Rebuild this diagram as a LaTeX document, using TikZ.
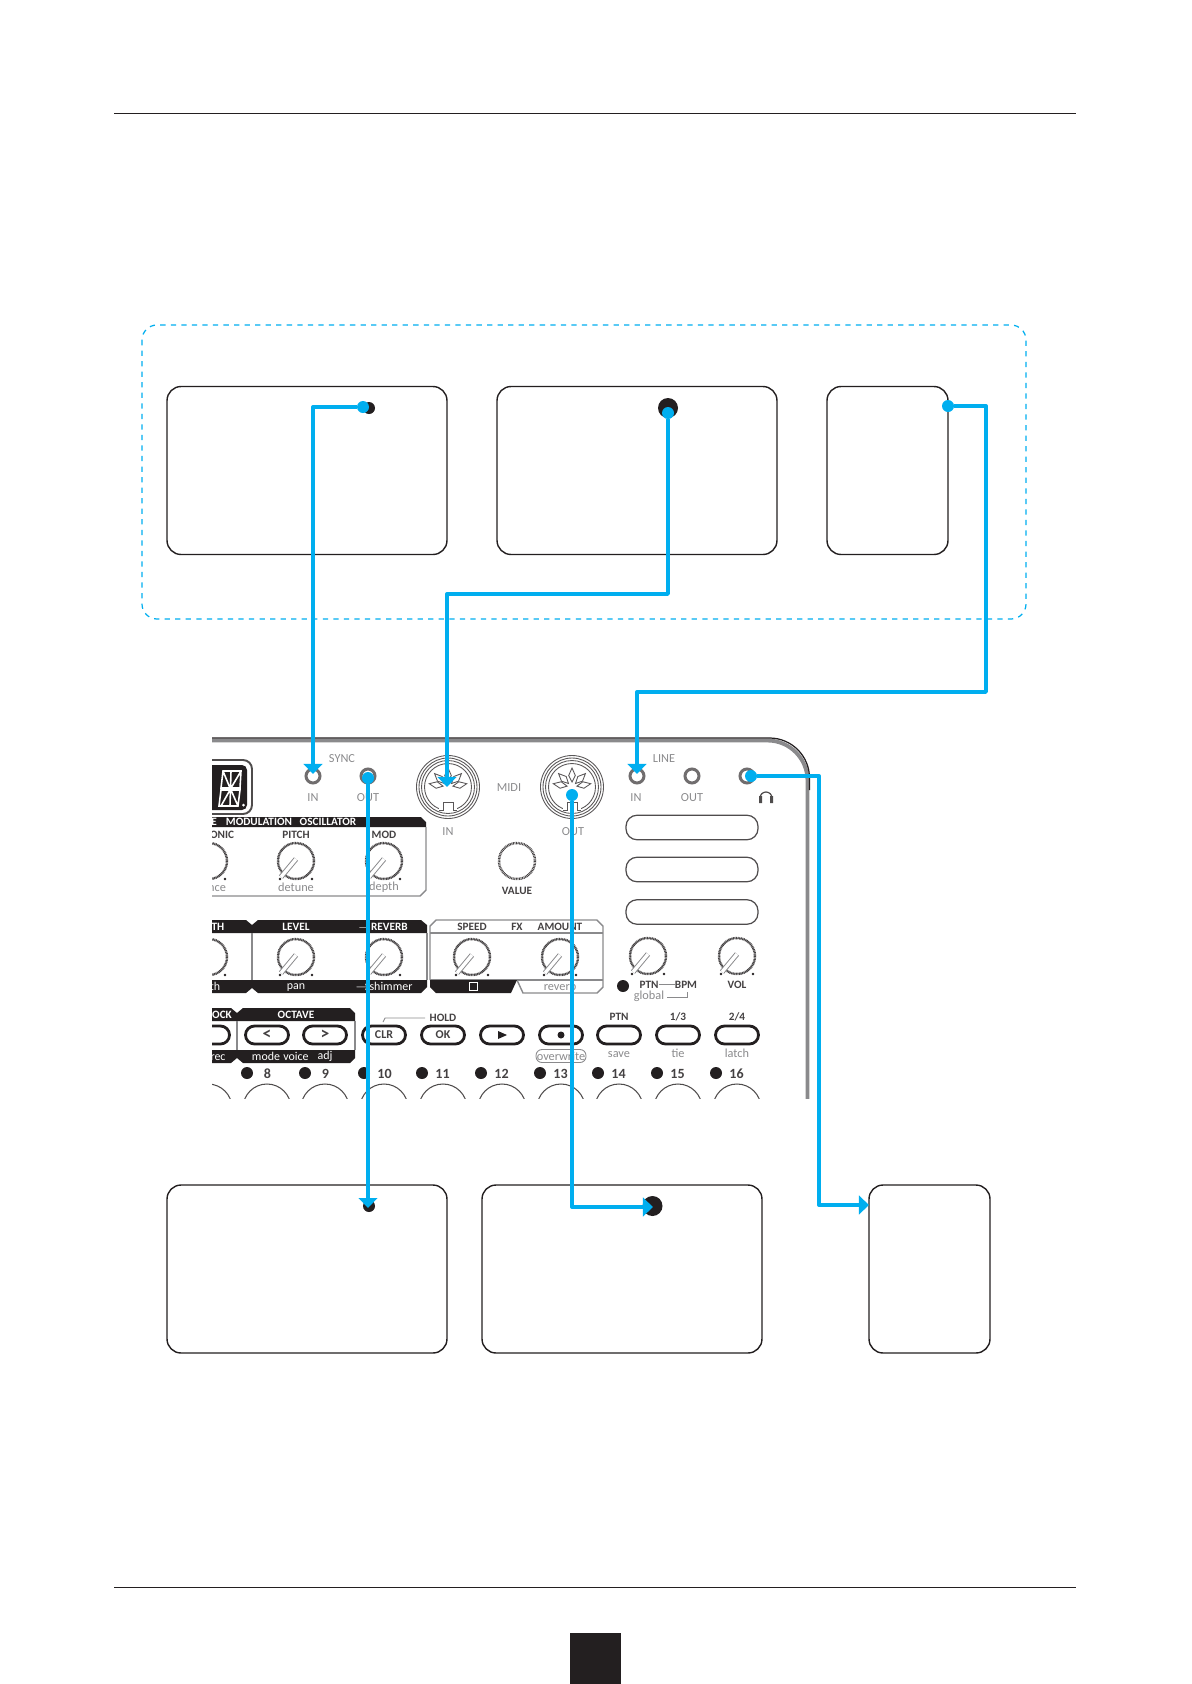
\documentclass[tikz,border=0pt]{standalone}
\usepackage{fontspec}
\setmainfont{Carlito}
\usepackage{tikz}
\usetikzlibrary{arrows.meta}

\definecolor{wireblue}{HTML}{00AEEF}
\definecolor{ink}{HTML}{231F20}
\definecolor{soft}{HTML}{8A8A8C}

\tikzset{
    devicebox/.style={draw=ink,line width=0.8pt,rounded corners=0.28cm,minimum height=3.36cm,inner sep=0,outer sep=0,fill=white},
    widebox/.style={devicebox,minimum width=5.6cm},
    thinbox/.style={devicebox,minimum width=2.42cm},
    wire/.style={draw=wireblue,line width=1.9pt,line join=round},
    wirearrow/.style={wire,-{Triangle[length=5.7pt,width=10.5pt]}},
    wiredot/.style={shape=circle,fill=wireblue,inner sep=0,minimum size=0.24cm},
    blackdot/.style={shape=circle,fill=ink,inner sep=0},
    faint/.style={text=soft,font=\fontsize{7}{8}\selectfont,inner sep=0,text height=4.6pt},
    label/.style={text=ink!85,font=\fontsize{6.4}{8}\bfseries\selectfont,inner sep=0,text height=4.2pt,text depth=0pt},
    bandtext/.style={text=white,font=\fontsize{6.4}{8}\bfseries\selectfont,inner sep=0,text height=4.2pt,text depth=0pt},
    bandsoft/.style={text=white,font=\fontsize{6.8}{8}\selectfont,inner sep=0,text height=4.6pt},
    panelline/.style={draw=soft,line width=0.8pt},
    button/.style={draw=ink,line width=1.6pt,rounded corners=0.18cm,minimum width=0.86cm,minimum height=0.36cm,inner sep=0,fill=white,font=\fontsize{6.8}{8}\bfseries\selectfont,text=ink!85},
    arrowbutton/.style={button,font=\fontsize{10}{10}\bfseries\selectfont},
    slot/.style={draw=ink!80,line width=0.7pt,rounded corners=0.22cm,minimum width=2.64cm,minimum height=0.49cm,inner sep=0},
    jack/.style={shape=circle,draw=ink!65,line width=1.7pt,fill=white,minimum size=0.28cm,inner sep=0},
    midiring/.style={shape=circle,draw=ink!75,line width=0.5pt,inner sep=0},
    knob/.pic={
        \draw[soft,line width=0.5pt] (0,0) circle (18);
        \draw[ink!85,line width=1.4pt,dash pattern=on 0.5pt off 0.4pt] (0,0) circle (18);
        \draw[soft,line width=3pt] (-15,16) -- (0,-2);
        \draw[white,line width=1.9pt] (-15,16) -- (0,-2);
        \fill[ink] (-16,18) circle (1.4) (16,18) circle (1.4);
    }
}

\begin{document}
\begin{tikzpicture}[x=0.02cm,y=-0.02cm]
    \useasboundingbox (0,0) rectangle (1191,1684);

    \draw[ink,line width=0.6pt] (114,113.5) -- (1076,113.5);
    \draw[ink,line width=0.6pt] (114,1587.5) -- (1076,1587.5);
    \fill[ink] (570,1633) rectangle (621,1684);

    \draw[wireblue,line width=0.7pt,dashed,rounded corners=0.3cm] (142,325) rectangle (1026,619);

    \begin{scope}
        \clip (212,730) rectangle (830,1098);

        \draw[soft,line width=2.2pt,rounded corners=0.8cm] (200,740.5) -- (807.5,740.5) -- (807.5,1120);
        \draw[ink,line width=0.7pt,rounded corners=0.8cm] (200,738) -- (809.5,738) -- (809.5,790);

        \draw[ink!80,line width=1.1pt,rounded corners=0.18cm] (190,760) -- (252,760) -- (252,814) -- (190,814);
        \fill[ink,rounded corners=0.1cm] (190,765) rectangle (247,810);
        \draw[white,line width=0.9pt] (223,771) -- (241,771) -- (240,788) -- (221,788) -- cycle
            (221,790) -- (240,790) -- (238,806) -- (219,806) -- cycle
            (231,771) -- (230,806) (223,771) -- (230,788) (241,771) -- (231,788)
            (221,806) -- (230,790) (238,806) -- (231,790);
        \fill[white] (243.5,805) circle (1.5);

        \fill[ink] (200,817) -- (421,817) -- (426,822) -- (426,827) -- (200,827) -- cycle;
        \draw[panelline] (426,827) -- (426,890) -- (420,896) -- (200,896);

        \fill[ink] (200,920) -- (246,920) -- (252,925) -- (258,920) -- (421,920) -- (427,925) -- (427,933) -- (200,933) -- cycle;
        \fill[ink] (200,980) -- (427,980) -- (427,987) -- (421,993) -- (258,993) -- (252,988) -- (246,993) -- (200,993) -- cycle;
        \draw[panelline] (252,933) -- (252,980) (427,933) -- (427,980);

        \draw[panelline] (430,980) -- (430,926) -- (436,920) -- (597,920) -- (603,926) -- (603,987) -- (597,993) -- (523,993) -- (517,980);
        \draw[panelline] (430,933) -- (603,933) (430,980) -- (603,980);
        \fill[ink] (430,980) -- (517,980) -- (511,993) -- (436,993) -- (430,987) -- cycle;

        \fill[ink] (200,1008) -- (231,1008) -- (237,1013) -- (243,1008) -- (350,1008) -- (355,1013) -- (355,1021) -- (200,1021) -- cycle;
        \fill[ink] (200,1050) -- (355,1050) -- (355,1058) -- (350,1063) -- (243,1063) -- (237,1058) -- (231,1063) -- (200,1063) -- cycle;
        \draw[panelline] (237,1021) -- (237,1050) (355,1021) -- (355,1050);

        \foreach \x/\y in {209/861,296/861,384/861,209/957,296/957,384/957,472/957,560/957,648/956,737/956}
            \pic at (\x,\y) {knob};
        \draw[ink!85,line width=1.4pt,dash pattern=on 0.5pt off 0.4pt] (517,861) circle (18);

        \node[jack] (syncin) at (313,776) {};
        \node[jack] (syncout) at (368,776) {};
        \node[jack] (linein) at (637,776) {};
        \node[jack] (lineout) at (692,776) {};
        \node[jack] (phones) at (747,776) {};

        \foreach \n/\x in {midiin/448,midiout/572} {
            \node[midiring,minimum size=1.26cm] (\n) at (\x,787) {};
            \node[midiring,minimum size=1.16cm] (\n two) at (\x,787) {};
            \node[midiring,minimum size=1.06cm] (\n three) at (\x,787) {};
            \node[midiring,minimum size=0.94cm] (\n four) at (\x,787) {};
            \foreach \a in {270,225,315,190,350}
                \draw[ink!75,line width=0.5pt,fill=white,shift={(\x,787)}] (\a:5) -- (\a+16:12) -- (\a:19) -- (\a-16:12) -- cycle;
            \fill[white,shift={(\x,787)}] (-9,24) rectangle (9,15);
            \draw[ink!75,line width=0.5pt,shift={(\x,787)}] (-9,23) -- (-5,23) -- (-5,15) -- (5,15) -- (5,23) -- (9,23);
        }

        \node[slot] (slot1) at (692,827.5) {};
        \node[slot] (slot2) at (692,869.5) {};
        \node[slot] (slot3) at (692,912) {};

        \node[button] (btnhold) at (208,1035) {};
        \node[arrowbutton] (btnleft) at (267,1035) {<};
        \node[arrowbutton] (btnright) at (325,1035) {>};
        \node[button] (btnclr) at (384,1035) {CLR};
        \node[button] (btnok) at (443,1035) {OK};
        \node[button] (btnplay) at (502,1035) {};
        \node[button] (btnrec) at (561,1035) {};
        \node[button] (btnptn) at (619,1035) {};
        \node[button] (btntie) at (678,1035) {};
        \node[button] (btnlatch) at (737,1035) {};
        \fill[ink] (498,1031) -- (507,1035) -- (498,1039) -- cycle;
        \node[blackdot,minimum size=0.14cm] (recdot) at (561,1035) {};
        \node[draw=soft,line width=0.5pt,rounded corners=0.12cm,minimum width=1cm,minimum height=0.26cm,inner sep=0,faint] (overwrite) at (561,1056) {overwrite};
        \draw[soft,line width=0.5pt] (383,1022) -- (385,1018) -- (425,1018);

        \foreach \n/\x/\d in {a/247/8,b/305/9,c/364/10,d/422/11,e/481/12,f/540/13,g/598/14,h/657/15,i/716/16} {
            \node[blackdot,minimum size=0.24cm] (step\n) at (\x,1073) {};
            \node[label,font=\fontsize{8}{9}\bfseries\selectfont,text height=5.2pt] (num\n) at (\x+20.5,1073.5) {\d};
        }
        \foreach \x in {208,267,325,384,443,502,561,619,678,737}
            \draw[ink!80,line width=0.6pt] (\x,1108) circle (24);

        \node[blackdot,minimum size=0.24cm] (ptnled) at (623,986) {};
        \draw[soft,line width=0.5pt] (659,984.5) -- (675,984.5);
        \draw[soft,line width=0.5pt] (667,997) -- (687,997) -- (687,992);

        \draw[ink!80,line width=0.7pt] (760,798) arc (180:360:6);
        \fill[ink!80] (759,796) rectangle (762,803) (770,796) rectangle (773,803);

        \node[faint] (synctext) at (342,758) {SYNC};
        \node[faint] (syncintext) at (313,797) {IN};
        \node[faint] (syncouttext) at (368,797) {OUT};
        \node[faint] (miditext) at (509,787) {MIDI};
        \node[faint] (midiintext) at (448,831) {IN};
        \node[faint] (midiouttext) at (573,831) {OUT};
        \node[faint] (linetext) at (664,758) {LINE};
        \node[faint] (lineintext) at (636,797) {IN};
        \node[faint] (lineouttext) at (692,797) {OUT};
        \node[label] (valuetext) at (517,891) {VALUE};

        \node[bandtext] (lbl1) at (214,822) {E};
        \node[bandtext] (lbl2) at (259,822) {MODULATION};
        \node[bandtext] (lbl3) at (328,822) {OSCILLATOR};
        \node[label] (lbl4) at (222,835) {ONIC};
        \node[label] (lbl5) at (296,835) {PITCH};
        \node[label] (lbl6) at (384,835) {MOD};
        \node[faint] (lbl7) at (217,887) {nce};
        \node[faint] (lbl8) at (296,887) {detune};
        \node[faint] (lbl9) at (384,887) {depth};

        \node[bandtext] (lbl10) at (218,927) {TH};
        \node[bandtext] (lbl11) at (296,927) {LEVEL};
        \node[bandtext] (lbl12) at (383,927) {$\rightarrow$REVERB};
        \node[bandsoft] (lbl13) at (215,986) {th};
        \node[bandsoft] (lbl14) at (296,986) {pan};
        \node[bandsoft] (lbl15) at (384,986) {$\rightarrow$shimmer};
        \node[label] (lbl16) at (472,927) {SPEED};
        \node[label] (lbl17) at (517,927) {FX};
        \node[label] (lbl18) at (560,927) {AMOUNT};
        \node[draw=white,line width=0.5pt,minimum size=0.16cm,inner sep=0] (lbl19) at (473,986) {};
        \node[faint] (lbl20) at (560,986) {reverb};

        \node[bandtext] (lbl21) at (222,1015) {OCK};
        \node[bandtext] (lbl22) at (296,1015) {OCTAVE};
        \node[bandsoft] (lbl23) at (218,1056) {rec};
        \node[bandsoft] (lbl24) at (266,1056) {mode};
        \node[bandsoft] (lbl25) at (296,1056) {voice};
        \node[bandsoft] (lbl26) at (325,1056) {adj};
        \node[label] (lbl27) at (443,1018) {HOLD};
        \node[label] (lbl28) at (619,1017) {PTN};
        \node[label] (lbl29) at (678,1017) {1/3};
        \node[label] (lbl30) at (737,1017) {2/4};
        \node[faint] (lbl31) at (619,1053) {save};
        \node[faint] (lbl32) at (678,1053) {tie};
        \node[faint] (lbl33) at (737,1053) {latch};
        \node[label] (lbl34) at (649,984.5) {PTN};
        \node[label] (lbl35) at (686,984.5) {BPM};
        \node[faint] (lbl36) at (649,997) {global};
        \node[label] (lbl37) at (737,985) {VOL};
    \end{scope}

    \node[widebox] (box1) at (307,470.5) {};
    \node[widebox] (box2) at (637,470.5) {};
    \node[thinbox] (box3) at (887.5,470.5) {};
    \node[widebox] (box4) at (307,1269) {};
    \node[widebox] (box5) at (622,1269) {};
    \node[thinbox] (box6) at (929.5,1269) {};

    \node[blackdot,minimum size=0.24cm] (syncport) at (369,408) {};
    \node[blackdot,minimum size=0.40cm] (midiport) at (668,408) {};
    \node[blackdot,minimum size=0.24cm] (clockport) at (369,1206) {};
    \node[blackdot,minimum size=0.40cm] (midiinport) at (652.5,1206) {};

    \node[wiredot] (1) at (363,407) {};
    \node[wiredot] (2) at (668,413) {};
    \node[wiredot] (3) at (948,406) {};
    \node[wiredot] (4) at (368,778) {};
    \node[wiredot] (5) at (572,795) {};
    \node[wiredot] (6) at (751,776) {};

    \coordinate (intip) at (313,774);
    \coordinate (miditip) at (447,787);
    \coordinate (midibend) at (447,594);
    \coordinate (linebend) at (986,692);
    \coordinate (linetip) at (637,774);
    \coordinate (clocktip) at (368,1208);
    \coordinate (outtip) at (653,1207);
    \coordinate (phonesbend) at (819,1205);
    \coordinate (phonestip) at (869,1205);

    \path [wirearrow] (1) -| (intip);
    \path [wirearrow] (2) |- (midibend) -- (miditip);
    \path [wirearrow] (3) -| (linebend) -| (linetip);
    \path [wirearrow] (4) -- (clocktip);
    \path [wirearrow] (5) |- (outtip);
    \path [wirearrow] (6) -| (phonesbend) -- (phonestip);
\end{tikzpicture}
\end{document}
